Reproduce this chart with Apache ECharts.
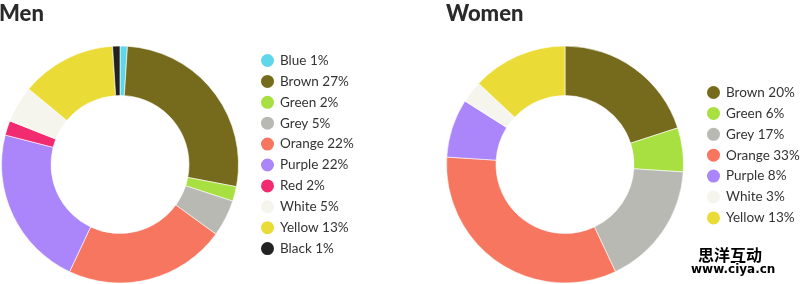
<!DOCTYPE html>
<html>
<head>
<meta charset="utf-8">
<script src="https://cdn.jsdelivr.net/npm/echarts@6/dist/echarts.min.js"></script>
<style>
  html, body { margin: 0; padding: 0; background: #fff; }
  #chart { width: 800px; height: 284px; }
</style>
</head>
<body>
<div id="chart"></div>
<script>
// Eye colour shares (%)
const menNames = ['Blue', 'Brown', 'Green', 'Grey', 'Orange', 'Purple', 'Red', 'White', 'Yellow', 'Black'];
const menValues = [1, 27, 2, 5, 22, 22, 2, 5, 13, 1];
const womenNames = ['Brown', 'Green', 'Grey', 'Orange', 'Purple', 'White', 'Yellow'];
const womenValues = [20, 6, 17, 33, 8, 3, 13];

const palette = {
  Blue: '#5fd7ea', Brown: '#766b1c', Green: '#a7e040', Grey: '#b9b9b4',
  Orange: '#f7765f', Purple: '#ab86fa', Red: '#f22a6f', White: '#f5f5ee',
  Yellow: '#ebdb36', Black: '#222222'
};

function toData(names, values) {
  return names.map((n, i) => ({ name: n, value: values[i], itemStyle: { color: palette[n] } }));
}

const FONT = 'Lato, "Open Sans", sans-serif';
const chart = echarts.init(document.getElementById('chart'), null, { renderer: 'canvas' });

function fmt(names, values) {
  return name => name + ' ' + values[names.indexOf(name)] + '%';
}

const legendBase = {
  orient: 'vertical', padding: 0, height: 260,
  icon: 'circle', itemWidth: 15, itemHeight: 15, itemGap: 3.9,
  selectedMode: false,
  textStyle: { fontFamily: FONT, fontSize: 13.5, color: '#333' }
};

chart.setOption({
  animation: false,
  title: [
    { text: 'Men', left: -1, top: -2, padding: [5, 5, 5, 0], textStyle: { fontFamily: FONT, fontWeight: 900, fontSize: 22, color: '#2a2a2a' } },
    { text: 'Women', left: 446, top: -2, padding: [5, 5, 5, 0], textStyle: { fontFamily: FONT, fontWeight: 900, fontSize: 22, color: '#2a2a2a' } }
  ],
  legend: [
    Object.assign({}, legendBase, {
      data: menNames, left: 259, top: 52,
      formatter: fmt(menNames, menValues)
    }),
    Object.assign({}, legendBase, {
      data: womenNames, left: 705, top: 84,
      formatter: fmt(womenNames, womenValues)
    })
  ],
  graphic: [
    {
      type: 'text', left: 697, top: 246,
      style: { text: '思洋互动', font: 'bold 16px "Noto Sans CJK SC"', fill: '#000', stroke: '#fff', lineWidth: 2 }
    },
    {
      type: 'text', left: 690, top: 263,
      style: { text: 'www.ciya.cn', font: 'bold 12px "DejaVu Sans"', fill: '#000', stroke: '#fff', lineWidth: 2 }
    }
  ],
  series: [
    {
      type: 'pie', center: [120, 164.5], radius: [69, 118.5],
      startAngle: 90, clockwise: true, legendHoverLink: false,
      label: { show: false }, labelLine: { show: false },
      emphasis: { disabled: true },
      itemStyle: { borderColor: '#fff', borderWidth: 0.6 },
      data: toData(menNames, menValues)
    },
    {
      type: 'pie', center: [565, 164.5], radius: [69, 118.5],
      startAngle: 90, clockwise: true, legendHoverLink: false,
      label: { show: false }, labelLine: { show: false },
      emphasis: { disabled: true },
      itemStyle: { borderColor: '#fff', borderWidth: 0.6 },
      data: toData(womenNames, womenValues)
    }
  ]
});
</script>
</body>
</html>
